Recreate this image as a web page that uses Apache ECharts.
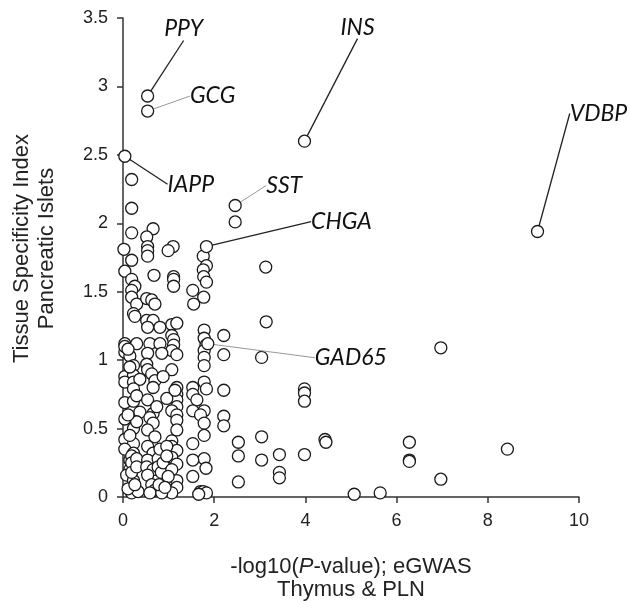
<!DOCTYPE html>
<html>
<head>
<meta charset="utf-8">
<script src="https://cdn.jsdelivr.net/npm/echarts@6/dist/echarts.min.js"></script>
<style>
html,body{margin:0;padding:0;background:#fff;}
#chart{width:630px;height:601px;}
</style>
</head>
<body>
<div id="chart"></div>
<script>
// x: -log10(P-value) eGWAS Thymus & PLN ; y: Tissue Specificity Index Pancreatic Islets
var xTicks = [0, 2, 4, 6, 8, 10];
var yTicks = [0, 0.5, 1, 1.5, 2, 2.5, 3, 3.5];

var columnA = [
  [0.02,1.81],[0.19,2.11],[0.19,1.93],[0.19,1.73],[0.04,1.65],[0.19,1.59],[0.26,1.54],[0.19,1.51],
  [0.19,1.46],[0.30,1.41],[0.23,1.34],[0.26,1.32],[0.04,1.12],[0.30,1.12],[0.04,1.06],[0.15,1.03],
  [0.23,0.96],[0.04,0.88],[0.23,0.89],[0.04,0.84],[0.23,0.84],[0.37,0.86],[0.23,0.79],[0.04,0.69],
  [0.23,0.70],[0.37,0.62],[0.04,0.57],[0.23,0.50],[0.04,0.42],[0.23,0.39],[0.04,0.35],[0.23,0.32],
  [0.15,0.27],[0.23,0.23],[0.15,0.20],[0.08,0.16],[0.23,0.12],[0.19,0.03],[0.33,0.04],[0.19,2.32],
  [0.19,0.30],[0.19,0.25],[0.19,0.18],[0.30,0.28],[0.30,0.22],[0.11,0.06],[0.26,0.09],[0.04,1.10],
  [0.11,1.08],[0.15,0.95],[0.30,0.74],[0.30,0.55],[0.11,0.60],[0.15,0.45]
];
var columnB = [
  [0.66,1.96],[0.52,1.90],[0.54,1.83],[0.54,1.80],[0.54,1.76],[0.68,1.62],[0.52,1.45],[0.63,1.44],
  [0.70,1.41],[0.52,1.29],[0.66,1.29],[0.54,1.24],[0.81,1.24],[0.59,1.12],[0.81,1.12],[0.54,1.05],
  [0.52,0.97],[0.54,0.93],[0.63,0.90],[0.70,0.85],[0.66,0.80],[0.54,0.71],[0.66,0.61],[0.59,0.58],
  [0.66,0.54],[0.54,0.49],[0.70,0.44],[0.54,0.37],[0.66,0.32],[0.54,0.27],[0.52,0.22],[0.66,0.20],
  [0.54,0.16],[0.63,0.09],[0.70,0.05],[0.77,0.28],[0.77,0.22],[0.81,0.35],[0.74,0.66],[0.59,0.03],
  [0.84,0.18],[0.88,0.25]
];
var columnC = [
  [1.10,1.83],[0.99,1.80],[1.11,1.61],[1.11,1.59],[1.11,1.54],[1.07,1.26],[1.18,1.27],[1.07,1.18],
  [1.11,1.15],[1.11,1.11],[1.07,1.07],[1.18,1.04],[0.85,1.05],[1.07,0.93],[0.88,0.88],[1.18,0.80],
  [1.18,0.75],[1.18,0.71],[0.96,0.72],[1.18,0.66],[1.07,0.63],[1.18,0.60],[1.18,0.56],[1.18,0.49],
  [1.07,0.41],[1.07,0.37],[1.18,0.34],[1.07,0.29],[1.18,0.24],[1.07,0.20],[1.18,0.12],[1.18,0.07],
  [1.07,0.03],[0.85,0.03],[0.79,0.09],[0.96,0.37],[0.96,0.30],[0.99,0.15],[0.92,0.07],[1.14,0.78]
];
var columnD = [
  [1.76,1.76],[1.83,1.69],[1.76,1.66],[1.77,1.61],[1.83,1.57],[1.53,1.51],[1.55,1.41],[1.77,1.46],
  [1.78,1.22],[1.78,1.16],[1.82,1.11],[1.78,1.07],[1.78,1.02],[1.78,0.96],[1.78,0.84],[1.83,0.79],
  [1.53,0.80],[1.53,0.75],[1.62,0.71],[1.53,0.63],[1.78,0.63],[1.70,0.60],[1.78,0.54],[1.78,0.45],
  [1.53,0.39],[1.78,0.28],[1.53,0.27],[1.82,0.21],[1.53,0.15],[1.70,0.04],[1.76,0.04],[1.83,0.03],
  [1.66,0.02]
];
var sparse = [
  [3.13,1.68],[3.14,1.28],[2.21,1.18],[2.21,1.04],[3.04,1.02],[2.21,0.78],[2.21,0.59],[2.21,0.52],
  [2.53,0.40],[2.53,0.30],[3.04,0.44],[3.04,0.27],[3.43,0.31],[3.43,0.18],[3.43,0.14],[3.98,0.31],
  [3.98,0.79],[3.98,0.76],[3.98,0.70],[2.53,0.11],[4.43,0.42],[4.45,0.40],[6.97,1.09],[6.28,0.40],
  [6.28,0.27],[6.28,0.26],[8.43,0.35],[6.97,0.13],[5.07,0.02],[5.64,0.03]
];

var geneNames  = ['PPY', 'GCG', 'IAPP', 'INS', 'VDBP', 'SST', 'SST2', 'CHGA', 'GAD65'];
var geneValues = [[0.54,2.93],[0.54,2.82],[0.04,2.49],[3.98,2.60],[9.09,1.94],[2.46,2.13],[2.46,2.01],[1.83,1.83],[1.86,1.12]];

// label placement (style only, offsets of label centre from its point, px)
var labelStyle = {
  PPY:   {dx: 36,  dy: -67,  line: '#222'},
  GCG:   {dx: 65,  dy: -15,  line: '#999'},
  IAPP:  {dx: 66,  dy: 28,   line: '#222'},
  INS:   {dx: 53,  dy: -114, line: '#222'},
  VDBP:  {dx: 61,  dy: -118, line: '#222'},
  SST:   {dx: 49,  dy: -20,  line: '#999'},
  CHGA:  {dx: 135, dy: -25,  line: '#222'},
  GAD65: {dx: 143, dy: 14,   line: '#999'}
};

var background = columnA.concat(columnB, columnC, columnD, sparse);

var geneData = geneValues.map(function (v, i) {
  var name = geneNames[i];
  var st = labelStyle[name];
  if (!st) {
    return {value: v, name: name, label: {show: false}, labelLine: {show: false}};
  }
  return {
    value: v, name: name,
    label: {show: true, formatter: name},
    labelLine: {show: true, lineStyle: {color: st.line, width: st.line === '#222' ? 1.3 : 1}}
  };
});

var chart = echarts.init(document.getElementById('chart'), null, {renderer: 'canvas'});
var axisFont = 'Liberation Sans, Arial, sans-serif';
chart.setOption({
  animation: false,
  backgroundColor: '#fff',
  grid: {left: 123, right: 51, top: 18, bottom: 104, containLabel: false, outerBoundsMode: 'none'},
  xAxis: {
    type: 'value', min: 0, max: 10, interval: 2,
    splitLine: {show: false},
    axisLine: {show: true, onZero: false, lineStyle: {color: '#333', width: 1.5}},
    axisTick: {show: true, length: 6, lineStyle: {color: '#333', width: 1.5}},
    axisLabel: {color: '#222', fontSize: 18, fontFamily: axisFont, margin: 15,
      formatter: function (v) { return xTicks.indexOf(v) >= 0 ? String(v) : ''; }},
    name: '{n|-log10(}{i|P}{n|-value); eGWAS}\n{n|Thymus & PLN}',
    nameLocation: 'middle', nameGap: 58,
    nameTextStyle: {
      color: '#222', fontSize: 22, fontFamily: axisFont, lineHeight: 23,
      rich: {
        n: {fontSize: 22, fontFamily: axisFont, color: '#222', lineHeight: 23},
        i: {fontSize: 22, fontFamily: axisFont, color: '#222', fontStyle: 'italic', lineHeight: 23}
      }
    }
  },
  yAxis: {
    type: 'value', min: 0, max: 3.5, interval: 0.5,
    splitLine: {show: false},
    axisLine: {show: true, onZero: false, lineStyle: {color: '#333', width: 1.5}},
    axisTick: {show: true, length: 6, lineStyle: {color: '#333', width: 1.5}},
    axisLabel: {color: '#222', fontSize: 18, fontFamily: axisFont, margin: 15,
      formatter: function (v) { return yTicks.indexOf(v) >= 0 ? String(v) : ''; }},
    name: 'Tissue Specificity Index\nPancreatic Islets',
    nameLocation: 'middle', nameGap: 64,
    nameTextStyle: {color: '#222', fontSize: 22, fontFamily: axisFont, lineHeight: 25, padding: [0, 0, 0, 18]}
  },
  series: [
    {
      type: 'scatter',
      data: background,
      symbol: 'circle', symbolSize: 12,
      itemStyle: {color: '#fff', borderColor: '#1a1a1a', borderWidth: 1.3, opacity: 1},
      emphasis: {disabled: true},
      silent: true
    },
    {
      type: 'scatter',
      data: geneData,
      symbol: 'circle', symbolSize: 12,
      itemStyle: {color: '#fff', borderColor: '#1a1a1a', borderWidth: 1.3, opacity: 1},
      label: {
        show: true, position: 'inside', align: 'center', verticalAlign: 'middle',
        fontFamily: 'Lato, sans-serif', fontStyle: 'italic', fontSize: 23, color: '#111'
      },
      labelLine: {show: true, length2: 0, lineStyle: {color: '#222', width: 1.2}},
      labelLayout: function (params) {
        var name = geneNames[params.dataIndex];
        var st = labelStyle[name];
        if (!st) return {};
        return {dx: st.dx, dy: st.dy};
      },
      emphasis: {disabled: true},
      silent: true,
      z: 3
    }
  ]
});
</script>
</body>
</html>
